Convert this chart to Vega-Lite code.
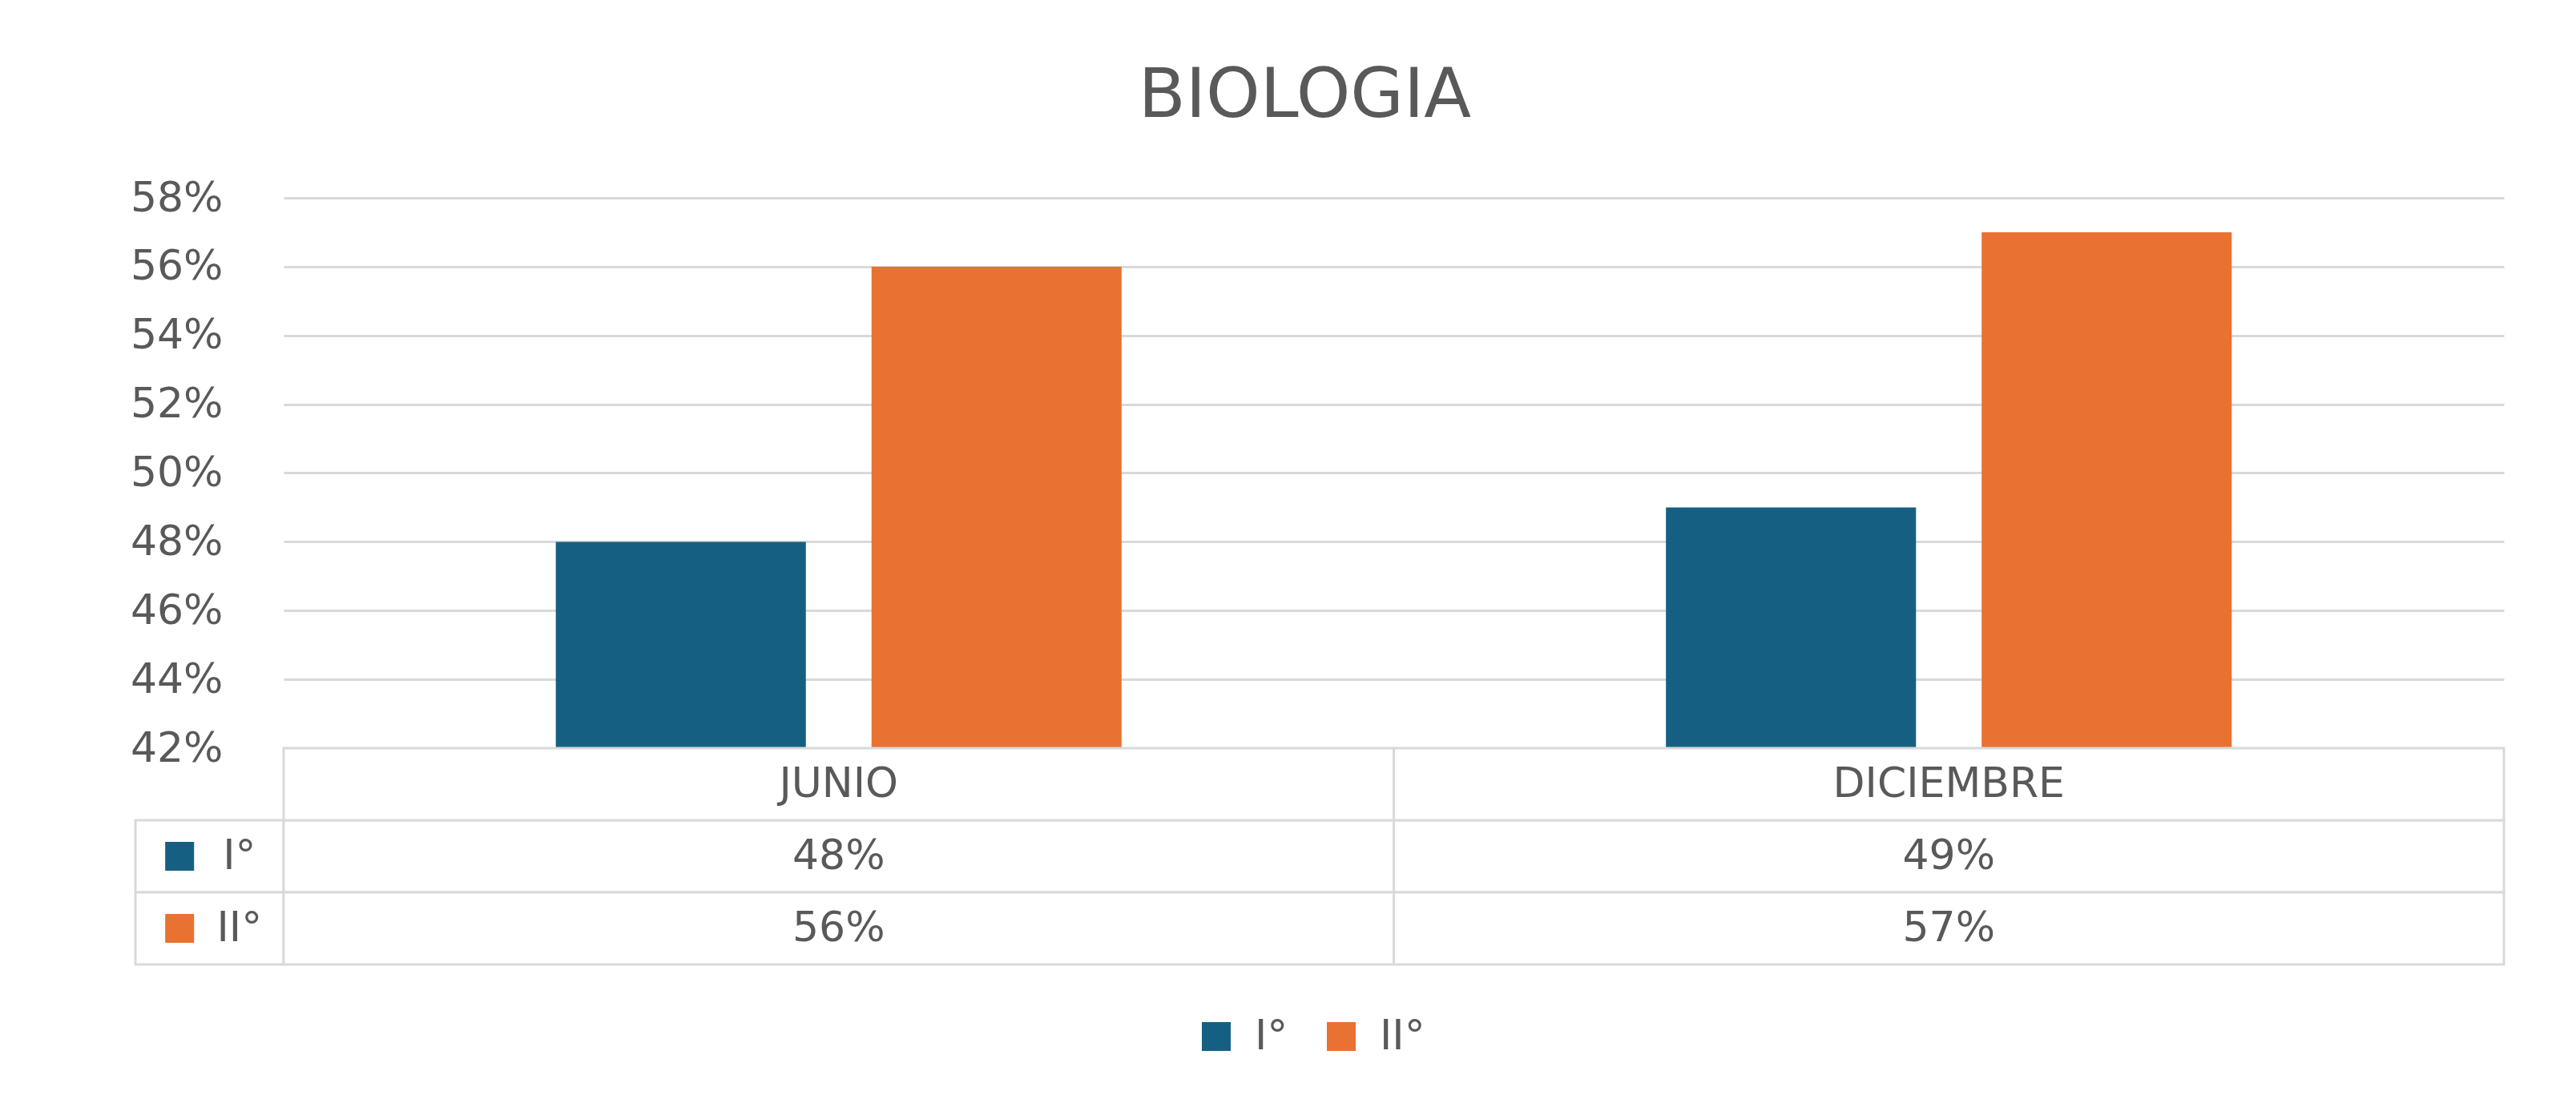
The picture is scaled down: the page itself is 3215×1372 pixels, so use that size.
{
  "$schema": "https://vega.github.io/schema/vega-lite/v6.json",
  "background": "white",
  "padding": {"left": 162, "top": 77, "right": 20, "bottom": 20},
  "datasets": {
    "notas": [
      {"periodo": "JUNIO", "serie": "I°", "valor": 0.48},
      {"periodo": "JUNIO", "serie": "II°", "valor": 0.56},
      {"periodo": "DICIEMBRE", "serie": "I°", "valor": 0.49},
      {"periodo": "DICIEMBRE", "serie": "II°", "valor": 0.57}
    ],
    "vacio": []
  },
  "title": {"text": "BIOLOGIA", "fontSize": 86, "fontWeight": "normal", "color": "#595959", "anchor": "middle", "offset": 57, "dx": -16},
  "spacing": 0,
  "bounds": "flush",
  "align": "each",
  "columns": 2,
  "concat": [
    {"data": {"name": "vacio"}, "mark": "point", "width": 185, "height": 687},
    {
      "data": {"name": "notas"},
      "width": 2771,
      "height": 687,
      "mark": {"type": "bar", "clip": true},
      "encoding": {
        "x": {"field": "periodo", "type": "nominal", "sort": ["JUNIO", "DICIEMBRE"], "scale": {"paddingInner": 0, "paddingOuter": 0}, "axis": null},
        "xOffset": {"field": "serie", "type": "nominal", "sort": ["I°", "II°"], "scale": {"paddingInner": 0.208, "paddingOuter": 0.862}},
        "y": {
          "field": "valor", "type": "quantitative",
          "scale": {"domain": [0.42, 0.58], "nice": false, "zero": false},
          "axis": {"values": [0.42, 0.44, 0.46, 0.48, 0.5, 0.52, 0.54, 0.56, 0.58], "format": ".0%", "title": null, "domain": false, "ticks": false, "tickSize": 0, "labelPadding": 76, "labelFontSize": 52, "labelColor": "#595959", "gridColor": "#d9d9d9", "gridWidth": 3}
        },
        "color": {
          "field": "serie", "type": "nominal",
          "scale": {"domain": ["I°", "II°"], "range": ["#156082", "#E97132"]},
          "legend": {"orient": "none", "legendX": 1323, "legendY": 1021, "direction": "horizontal", "title": null, "symbolType": "square", "symbolSize": 1300, "labelFontSize": 52, "labelColor": "#595959", "labelOffset": 22, "columnPadding": 40, "padding": 0, "symbolStrokeWidth": 0}
        }
      }
    },
    {
      "data": {"name": "notas"},
      "transform": [{"filter": "datum.periodo == 'JUNIO'"}],
      "width": 185,
      "height": 270,
      "layer": [
        {
          "mark": {"type": "rect", "fill": "white", "stroke": "#d9d9d9", "strokeWidth": 3},
          "encoding": {
            "y": {"field": "serie", "type": "nominal", "scale": {"domain": ["encabezado", "I°", "II°"], "paddingInner": 0, "paddingOuter": 0}, "axis": null}
          }
        },
        {
          "mark": {"type": "point", "shape": "square", "filled": true, "size": 1300, "opacity": 1},
          "encoding": {
            "y": {"field": "serie", "type": "nominal", "scale": {"domain": ["encabezado", "I°", "II°"], "paddingInner": 0, "paddingOuter": 0}, "axis": null},
            "x": {"datum": "simbolo", "type": "nominal", "scale": {"type": "point", "domain": ["simbolo", "etiqueta"], "padding": 0.74}, "axis": null},
            "color": {"field": "serie", "type": "nominal", "scale": {"domain": ["I°", "II°"], "range": ["#156082", "#E97132"]}, "legend": null}
          }
        },
        {
          "mark": {"type": "text", "fontSize": 52, "color": "#595959", "baseline": "middle", "align": "center"},
          "encoding": {
            "y": {"field": "serie", "type": "nominal", "scale": {"domain": ["encabezado", "I°", "II°"], "paddingInner": 0, "paddingOuter": 0}, "axis": null},
            "x": {"datum": "etiqueta", "type": "nominal", "scale": {"type": "point", "domain": ["simbolo", "etiqueta"], "padding": 0.74}, "axis": null},
            "text": {"field": "serie"}
          }
        }
      ]
    },
    {
      "data": {"name": "notas"},
      "width": 2771,
      "height": 270,
      "encoding": {
        "x": {"field": "periodo", "type": "nominal", "sort": ["JUNIO", "DICIEMBRE"], "scale": {"domain": ["JUNIO", "DICIEMBRE"], "paddingInner": 0, "paddingOuter": 0}, "axis": null}
      },
      "layer": [
        {
          "mark": {"type": "rect", "fill": "white", "stroke": "#d9d9d9", "strokeWidth": 3},
          "encoding": {
            "y": {"field": "serie", "type": "nominal", "scale": {"domain": ["encabezado", "I°", "II°"], "paddingInner": 0, "paddingOuter": 0}, "axis": null}
          }
        },
        {
          "transform": [{"filter": "datum.serie == 'I°'"}],
          "mark": {"type": "rect", "fill": "white", "stroke": "#d9d9d9", "strokeWidth": 3},
          "encoding": {
            "y": {"datum": "encabezado", "type": "nominal", "scale": {"domain": ["encabezado", "I°", "II°"], "paddingInner": 0, "paddingOuter": 0}, "axis": null}
          }
        },
        {
          "transform": [{"filter": "datum.serie == 'I°'"}],
          "mark": {"type": "text", "fontSize": 52, "color": "#595959", "baseline": "middle", "align": "center"},
          "encoding": {
            "y": {"datum": "encabezado", "type": "nominal", "scale": {"domain": ["encabezado", "I°", "II°"], "paddingInner": 0, "paddingOuter": 0}, "axis": null},
            "text": {"field": "periodo"}
          }
        },
        {
          "mark": {"type": "text", "fontSize": 52, "color": "#595959", "baseline": "middle", "align": "center"},
          "encoding": {
            "y": {"field": "serie", "type": "nominal", "scale": {"domain": ["encabezado", "I°", "II°"], "paddingInner": 0, "paddingOuter": 0}, "axis": null},
            "text": {"field": "valor", "type": "quantitative", "format": ".0%"}
          }
        }
      ]
    }
  ],
  "config": {"font": "DejaVu Sans", "view": {"stroke": null}}
}
